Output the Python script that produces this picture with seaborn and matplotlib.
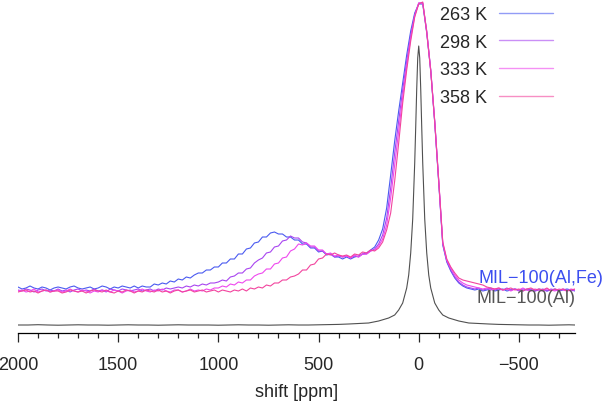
import matplotlib
matplotlib.use('Agg')
import matplotlib.pyplot as plt
import pandas as pd
import seaborn as sns
from matplotlib.ticker import MultipleLocator

# chemical shift axis of the MIL-100(Al,Fe) spectra (ppm), 20 ppm steps
shift = list(range(2000, -781, -20))

# intensities (arb. units), rows of 10 points = 200 ppm
k263 = [46, 44, 45, 47, 45, 44, 46, 45, 43, 45,
        46, 45, 44, 46, 47, 45, 44, 45, 46, 44,
        45, 47, 46, 44, 46, 45, 47, 46, 45, 47,
        45, 47, 46, 46, 49, 48, 50, 49, 52, 51,
        54, 53, 56, 55, 58, 60, 60, 63, 63, 66,
        66, 70, 70, 74, 74, 79, 79, 84, 85, 90,
        91, 96, 96, 100, 101, 99, 99, 96, 96, 93,
        93, 89, 89, 85, 85, 81, 82, 78, 79, 76,
        76, 74, 76, 74, 76, 77, 79, 80, 83, 86,
        93, 104, 125, 158, 192, 222, 250, 278, 302, 320,
        329, 329, 300, 262, 210, 150, 88, 71, 62, 55,
        50, 47, 45, 44, 43, 44, 42, 43, 44, 42,
        43, 44, 42, 43, 44, 43, 42, 44, 43, 42,
        44, 43, 42, 43, 44, 42, 43, 44, 43, 42]

k298 = [43, 42, 44, 43, 41, 43, 44, 42, 43, 42,
        44, 42, 43, 41, 43, 44, 42, 43, 42, 44,
        42, 43, 41, 44, 43, 42, 44, 43, 42, 43,
        44, 42, 43, 44, 42, 44, 43, 45, 44, 45,
        46, 45, 47, 46, 48, 47, 49, 48, 50, 50,
        51, 53, 52, 56, 57, 60, 60, 64, 65, 70,
        73, 75, 80, 81, 86, 87, 92, 93, 97, 95,
        95, 91, 90, 86, 86, 82, 82, 79, 79, 76,
        77, 76, 77, 75, 77, 76, 79, 79, 82, 84,
        89, 98, 115, 145, 180, 212, 243, 272, 298, 318,
        330, 330, 302, 263, 211, 151, 89, 72, 63, 56,
        51, 48, 46, 45, 44, 45, 43, 44, 45, 43,
        44, 43, 45, 43, 44, 42, 44, 43, 44, 42,
        43, 44, 42, 44, 43, 42, 44, 43, 42, 43]

k333 = [42, 43, 41, 42, 44, 41, 42, 43, 41, 42,
        43, 41, 42, 44, 42, 41, 43, 42, 40, 42,
        41, 43, 42, 41, 43, 42, 40, 42, 43, 41,
        42, 44, 42, 41, 43, 42, 44, 42, 41, 43,
        43, 41, 42, 44, 42, 43, 42, 44, 43, 45,
        45, 47, 46, 49, 48, 51, 50, 53, 53, 57,
        59, 60, 64, 64, 69, 70, 75, 76, 82, 84,
        89, 88, 90, 87, 87, 83, 83, 79, 80, 77,
        78, 76, 77, 75, 78, 76, 79, 79, 82, 83,
        87, 94, 108, 135, 168, 202, 236, 267, 295, 317,
        330, 330, 301, 263, 212, 152, 90, 73, 65, 58,
        53, 50, 48, 47, 46, 45, 44, 45, 43, 44,
        45, 43, 44, 42, 44, 43, 45, 43, 42, 44,
        43, 42, 44, 43, 42, 44, 43, 42, 44, 43]

k358 = [41, 42, 43, 41, 42, 40, 42, 43, 41, 42,
        42, 40, 41, 43, 42, 41, 42, 40, 42, 43,
        42, 41, 43, 41, 40, 42, 41, 43, 42, 40,
        42, 41, 43, 42, 41, 43, 41, 42, 40, 42,
        43, 41, 42, 43, 41, 42, 43, 41, 42, 43,
        41, 43, 42, 41, 43, 42, 44, 42, 45, 44,
        46, 45, 48, 47, 50, 50, 53, 53, 56, 57,
        59, 63, 63, 68, 69, 74, 75, 79, 78, 80,
        78, 77, 78, 76, 79, 78, 81, 80, 83, 82,
        85, 91, 103, 120, 152, 190, 230, 263, 292, 316,
        329, 331, 301, 262, 211, 152, 91, 74, 66, 60,
        55, 53, 52, 51, 50, 49, 48, 46, 45, 44,
        45, 43, 44, 45, 43, 44, 42, 44, 45, 43,
        44, 43, 45, 42, 44, 43, 44, 42, 43, 44]

# MIL-100(Al) reference spectrum, finer sampling around the peak
shift_al = [2000, 1950, 1900, 1850, 1800, 1750, 1700, 1650, 1600, 1550,
            1500, 1450, 1400, 1350, 1300, 1250, 1200, 1150, 1100, 1050,
            1000, 950, 900, 850, 800, 750, 700, 650, 600, 550,
            500, 450, 400, 350, 300, 250, 200, 150, 120, 100,
            80, 60, 50, 40, 30, 20, 15, 10, 5, 0,
            -5, -10, -15, -20, -30, -40, -50, -60, -80, -100,
            -120, -150, -200, -250, -300, -350, -400, -450, -500, -550,
            -600, -650, -700, -750, -780]
al = [8, 8, 8.3, 8, 7.8, 8, 8.2, 8, 8, 7.8,
      8, 8.2, 8, 8, 7.8, 8, 8.2, 8, 8, 8,
      7.8, 8, 8.2, 8, 8, 7.8, 8, 8.2, 8, 8,
      8.2, 8.4, 8.6, 9, 9.5, 10, 12, 15, 18, 23,
      30, 45, 58, 80, 114, 170, 206, 244, 275, 287,
      275, 244, 206, 170, 114, 80, 58, 45, 30, 23,
      18, 15, 12, 10, 9.5, 9, 8.6, 8.4, 8.2, 8,
      8, 7.8, 8, 8.2, 8]

temps = ['263 K', '298 K', '333 K', '358 K']
colors = ['#4a5af0', '#a845f0', '#ee48ee', '#f2449e']

df = pd.DataFrame({
    'shift': shift * 4,
    'intensity': k263 + k298 + k333 + k358,
    'temp': [t for t in temps for _ in shift],
})

sns.set_style('white')
plt.rcParams['font.family'] = ['Liberation Sans', 'DejaVu Sans']

fig = plt.figure(figsize=(6.04, 4.02), dpi=100)
ax = fig.add_axes([18 / 604, 68 / 402, 557 / 604, 334 / 402])

sns.lineplot(data=df, x='shift', y='intensity', hue='temp', palette=colors,
             hue_order=temps, estimator=None, linewidth=0.8, ax=ax, legend=False)
sns.lineplot(x=shift_al, y=al, color='#505050', linewidth=0.8, ax=ax)

ax.set_ylim(0, 334)
ax.set_yticks([])
ax.set_ylabel('')
ax.set_xlabel('shift [ppm]', fontsize=13, labelpad=7)
ax.xaxis.set_major_locator(MultipleLocator(500))
ax.xaxis.set_minor_locator(MultipleLocator(100))
ax.tick_params(axis='x', which='major', direction='out', length=6.5, width=0.9,
               pad=10, labelsize=13, bottom=True)
ax.tick_params(axis='x', which='minor', direction='out', length=3.4, width=0.9, bottom=True)
ticks = [2000, 1500, 1000, 500, 0, -500]
ax.set_xticks(ticks)
ax.set_xticklabels([str(v).replace('-', '\u2212') for v in ticks])
ax.set_xlim(2000, -780)
for side in ['top', 'left', 'right']:
    ax.spines[side].set_visible(False)
ax.spines['bottom'].set_linewidth(0.9)
ax.spines['bottom'].set_color('black')

# legend: labels on the left, light thin sample lines on the right
handles = [plt.Line2D([], [], color=c, linewidth=1.0, alpha=0.6) for c in colors]
fig.legend(handles, temps, loc='upper right', bbox_to_anchor=(553 / 604, 1 - 7 / 402),
           frameon=False, markerfirst=False, fontsize=13, handlelength=3.0,
           handletextpad=0.65, labelspacing=0.59, borderpad=0, borderaxespad=0)

ax.text(-297, 55, 'MIL\u2212100(Al,Fe)', color='#3c4ef0', fontsize=13,
        ha='left', va='center', clip_on=False)
ax.text(-290, 35, 'MIL\u2212100(Al)', color='#555555', fontsize=13,
        ha='left', va='center', clip_on=False)

fig.savefig('out.png', dpi=100)
